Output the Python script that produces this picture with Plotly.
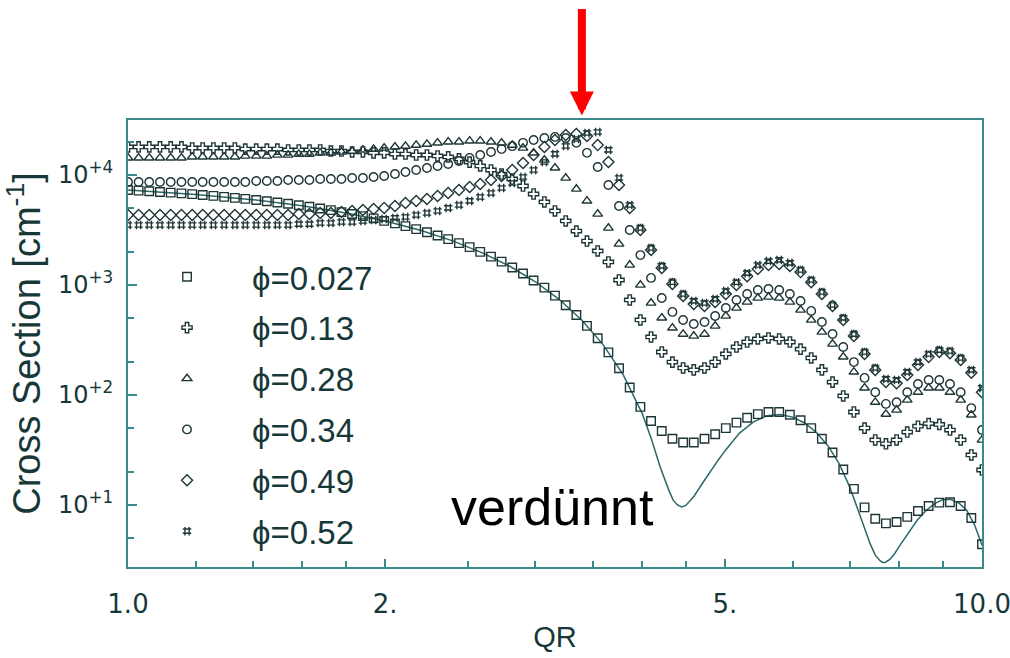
import plotly.graph_objects as go
import math

# ---------------- data ----------------
QR = [1.000, 1.029, 1.059, 1.090, 1.122, 1.155, 1.189, 1.223, 1.259, 1.296,
      1.334, 1.372, 1.413, 1.454, 1.496, 1.540, 1.585, 1.631, 1.679, 1.728,
      1.778, 1.830, 1.884, 1.939, 1.995, 2.054, 2.113, 2.175, 2.239, 2.304,
      2.371, 2.441, 2.512, 2.585, 2.661, 2.738, 2.818, 2.901, 2.985, 3.073,
      3.162, 3.255, 3.350, 3.447, 3.548, 3.652, 3.758, 3.868, 3.981, 4.097,
      4.217, 4.340, 4.467, 4.597, 4.732, 4.870, 5.012, 5.158, 5.309, 5.464,
      5.623, 5.788, 5.957, 6.131, 6.310, 6.494, 6.683, 6.879, 7.079, 7.286,
      7.499, 7.718, 7.943, 8.175, 8.414, 8.660, 8.913, 9.173, 9.441, 9.716,
      10.00]

I_0027 = [7300, 7210, 7110, 7010, 6910, 6800, 6700, 6580, 6460, 6330,
          6200, 6070, 5920, 5780, 5620, 5470, 5300, 5140, 4960, 4790,
          4600, 4420, 4230, 4030, 3830, 3630, 3430, 3220, 3020, 2820,
          2610, 2400, 2210, 2000, 1810, 1630, 1440, 1270, 1100, 947,
          800, 655, 533, 425, 328, 244, 175, 117, 78, 58,
          47, 40, 37, 37, 40, 44, 50, 56, 62, 67,
          70, 70, 66, 59, 50, 40, 30, 21, 14, 9.5,
          7.5, 6.8, 7.0, 7.8, 8.8, 9.8, 10.5, 10.6, 9.8, 7.6,
          4.4]

I_013 = [18000, 18000, 18000, 18000, 18000, 18000, 17600, 17600, 17600, 17600,
         17600, 17200, 17200, 17200, 17200, 16900, 16900, 16900, 16900, 16500,
         16500, 16200, 16200, 15900, 15900, 15500, 15500, 15200, 15200, 14900,
         14600, 14000, 13100, 12100, 11100, 10200, 9200, 7940, 6720, 5690,
         4710, 3820, 3090, 2510, 2040, 1620, 1110, 731, 481, 337,
         246, 199, 176, 169, 176, 199, 236, 273, 303, 323,
         330, 323, 303, 261, 217, 169, 131, 98, 70, 50,
         39, 36, 39, 46, 52, 55, 54, 48, 39, 28.5,
         20.8]

I_028 = [14300, 14300, 14300, 14300, 14300, 14300, 14600, 14600, 14600, 14600,
         14600, 14900, 14900, 14900, 15200, 15200, 15500, 15500, 15900, 15900,
         16200, 16500, 16900, 17200, 17600, 18000, 18300, 18700, 19100, 19600,
         20000, 20000, 20400, 20400, 20000, 19600, 18700, 17600, 15900, 13700,
         11600, 9400, 7460, 5810, 4420, 3300, 2360, 1520, 1000, 686,
         502, 407, 358, 344, 358, 424, 523, 618, 701, 762,
         778, 762, 701, 593, 481, 374, 291, 222, 162, 116,
         86, 67, 73, 90, 106, 116, 116, 106, 90, 66,
         39]

I_034 = [8640, 8640, 8640, 8640, 8640, 8640, 8640, 8640, 8640, 8640,
         8640, 8640, 8820, 8820, 8820, 9010, 9010, 9010, 9200, 9200,
         9200, 9400, 9400, 9590, 9790, 10200, 10650, 11100, 11580, 12070,
         12590, 13410, 14300, 15200, 16200, 17200, 18300, 19600, 20800, 21700,
         22200, 21700, 19600, 15900, 11820, 8110, 5230, 3160, 1870, 1160,
         762, 569, 481, 442, 461, 523, 618, 731, 828, 901,
         920, 901, 828, 716, 581, 461, 358, 273, 199, 143,
         106, 83, 86, 106, 126, 137, 137, 126, 106, 76,
         48]

I_049 = [4330, 4330, 4330, 4330, 4330, 4330, 4330, 4330, 4330, 4330,
         4330, 4330, 4330, 4330, 4330, 4330, 4420, 4420, 4510, 4510,
         4610, 4710, 4810, 4910, 5020, 5230, 5570, 5810, 6060, 6440,
         6860, 7310, 7780, 8280, 9010, 9790, 11100, 12860, 15200, 18000,
         20800, 23100, 23600, 22600, 18700, 13140, 8110, 5020, 3160, 2080,
         1430, 1020, 794, 672, 644, 701, 828, 1000, 1200, 1400,
         1520, 1550, 1490, 1310, 1060, 828, 644, 481, 344, 236,
         169, 131, 128, 152, 187, 222, 246, 240, 208, 159,
         106]

I_052 = [3510, 3510, 3510, 3510, 3510, 3510, 3510, 3510, 3510, 3510,
         3510, 3510, 3510, 3510, 3510, 3510, 3580, 3580, 3660, 3660,
         3740, 3740, 3820, 3900, 3980, 4070, 4150, 4330, 4510, 4710,
         5020, 5340, 5810, 6310, 6860, 7620, 8460, 9590, 11100, 13140,
         15540, 18350, 21260, 24090, 24600, 16900, 9400, 5340, 3300, 2170,
         1490, 1060, 828, 716, 686, 747, 882, 1060, 1280, 1520,
         1650, 1690, 1590, 1370, 1110, 864, 658, 502, 358, 246,
         176, 140, 137, 162, 199, 236, 256, 251, 217, 169,
         116]

# dilute-limit curve (solid line)
LINE_QR = [1.0, 1.2, 1.4, 1.6, 1.8, 2.0, 2.2, 2.4, 2.6, 2.8, 3.0, 3.2, 3.4, 3.6,
           3.8, 4.0, 4.1, 4.2, 4.3, 4.35, 4.4, 4.45, 4.5, 4.55, 4.6, 4.7, 4.8,
           4.9, 5.0, 5.2, 5.4, 5.6, 5.8, 6.0, 6.2, 6.4, 6.6, 6.8, 7.0, 7.2, 7.4,
           7.5, 7.6, 7.65, 7.7, 7.8, 7.9, 8.0, 8.2, 8.4, 8.6, 8.8, 9.0, 9.2,
           9.4, 9.6, 9.8, 10.0]
LINE_I = [7300, 6660, 5970, 5250, 4520, 3810, 3140, 2520, 1960, 1480, 1070, 737,
          479, 287, 153, 68, 40, 22, 13.5, 11, 10, 9.6, 9.9, 10.8, 12, 15.5, 20,
          25, 31, 45, 57, 64.6, 66.3, 62.9, 55.6, 45.6, 34.6, 23.9, 14.6, 7.8,
          4.4, 3.5, 3.1, 3.0, 3.0, 3.2, 3.6, 4.2, 5.6, 7.3, 8.9, 10.3, 11.2,
          11.2, 10.4, 8.9, 6.6, 4.3]

SERIES_LABELS = ["\u03d5=0.027", "\u03d5=0.13", "\u03d5=0.28",
                 "\u03d5=0.34", "\u03d5=0.49", "\u03d5=0.52"]
SERIES_VALUES = [I_0027, I_013, I_028, I_034, I_049, I_052]
SERIES_SYMBOLS = ["square-open", "cross-open", "triangle-up-open",
                  "circle-open", "diamond-open", "hash"]

X_TICKVALS = [1, 2, 5, 10]
X_TICKTEXT = ["1.0", "2.", "5.", "10.0"]
X_MINOR = [1.2, 1.4, 1.6, 1.8, 2.5, 3, 3.5, 4, 4.5, 6, 7, 8, 9]
Y_TICKVALS = [10, 100, 1000, 10000]
Y_TICKTEXT = ["10<sup>+1</sup>", "10<sup>+2</sup>", "10<sup>+3</sup>", "10<sup>+4</sup>"]
Y_MINOR = [5, 20, 50, 200, 500, 2000, 5000, 20000]

ARROW_QR = 3.40
NOTE_TEXT = "verdünnt"

# ---------------- styling ----------------
AX_COLOR = "#3a8a8a"
TXT_COLOR = "#173838"
MK_COLOR = "#1f3636"
FONT = "Liberation Sans, Arial, Helvetica, sans-serif"
TICK_FONT = "DejaVu Sans, Liberation Sans, sans-serif"

fig = go.Figure()

fig.add_trace(go.Scatter(
    x=LINE_QR, y=LINE_I, mode="lines",
    line=dict(color="#2c6868", width=1.5),
    showlegend=False, hoverinfo="skip"))

for i, (lab, vals, sym) in enumerate(zip(SERIES_LABELS, SERIES_VALUES, SERIES_SYMBOLS)):
    fig.add_trace(go.Scatter(
        x=QR, y=vals, mode="markers", name=lab,
        legendgroup=str(i),
        marker=dict(symbol=sym, size=8.5, color=MK_COLOR,
                    line=dict(color=MK_COLOR, width=1.4))))

fig.update_xaxes(
    type="log", range=[0, 1],
    tickmode="array", tickvals=X_TICKVALS, ticktext=X_TICKTEXT,
    ticks="inside", ticklen=8, tickwidth=1.5, tickcolor=AX_COLOR,
    minor=dict(tickmode="array", tickvals=X_MINOR, ticks="inside",
               ticklen=6, tickwidth=1.5, tickcolor=AX_COLOR, showgrid=False),
    showline=True, linecolor=AX_COLOR, linewidth=2, mirror=True,
    showgrid=False, zeroline=False,
    tickfont=dict(family=TICK_FONT, size=26, color=TXT_COLOR),
    ticklabelstandoff=13, ticklabeloverflow="allow",
    title=dict(text="QR", font=dict(family=FONT, size=29, color=TXT_COLOR), standoff=8))

fig.update_yaxes(
    type="log", range=[0.436, 4.5],
    tickmode="array", tickvals=Y_TICKVALS, ticktext=Y_TICKTEXT,
    ticks="inside", ticklen=9, tickwidth=1.5, tickcolor=AX_COLOR,
    minor=dict(tickmode="array", tickvals=Y_MINOR, ticks="inside",
               ticklen=6, tickwidth=1.5, tickcolor=AX_COLOR, showgrid=False),
    showline=True, linecolor=AX_COLOR, linewidth=2, mirror=True,
    showgrid=False, zeroline=False,
    tickfont=dict(family=TICK_FONT, size=24, color=TXT_COLOR),
    ticklabelstandoff=8, ticklabeloverflow="allow",
    title=dict(text="Cross Section [cm<sup>-1</sup>]",
               font=dict(family=FONT, size=38, color=TXT_COLOR), standoff=6))

fig.add_annotation(
    x=math.log10(ARROW_QR), y=1.01, xref="x", yref="paper",
    text="", showarrow=True, ax=0, ay=-108,
    arrowhead=2, arrowsize=0.6, arrowwidth=8, arrowcolor="#ff0000", standoff=0)

fig.add_annotation(
    x=0.4965, y=0.065, xref="paper", yref="paper",
    text=NOTE_TEXT, showarrow=False,
    font=dict(family=FONT, size=52, color="#000000"))

fig.update_layout(
    width=1010, height=658,
    margin=dict(l=128, r=28, t=120, b=91, autoexpand=False),
    paper_bgcolor="white", plot_bgcolor="white",
    legend=dict(x=-0.007, y=0.712, xanchor="left", yanchor="top",
                bgcolor="rgba(0,0,0,0)", borderwidth=0,
                font=dict(family=FONT, size=33, color=TXT_COLOR),
                itemwidth=120, tracegroupgap=5, traceorder="grouped"),
)

fig.write_html("out.html")
